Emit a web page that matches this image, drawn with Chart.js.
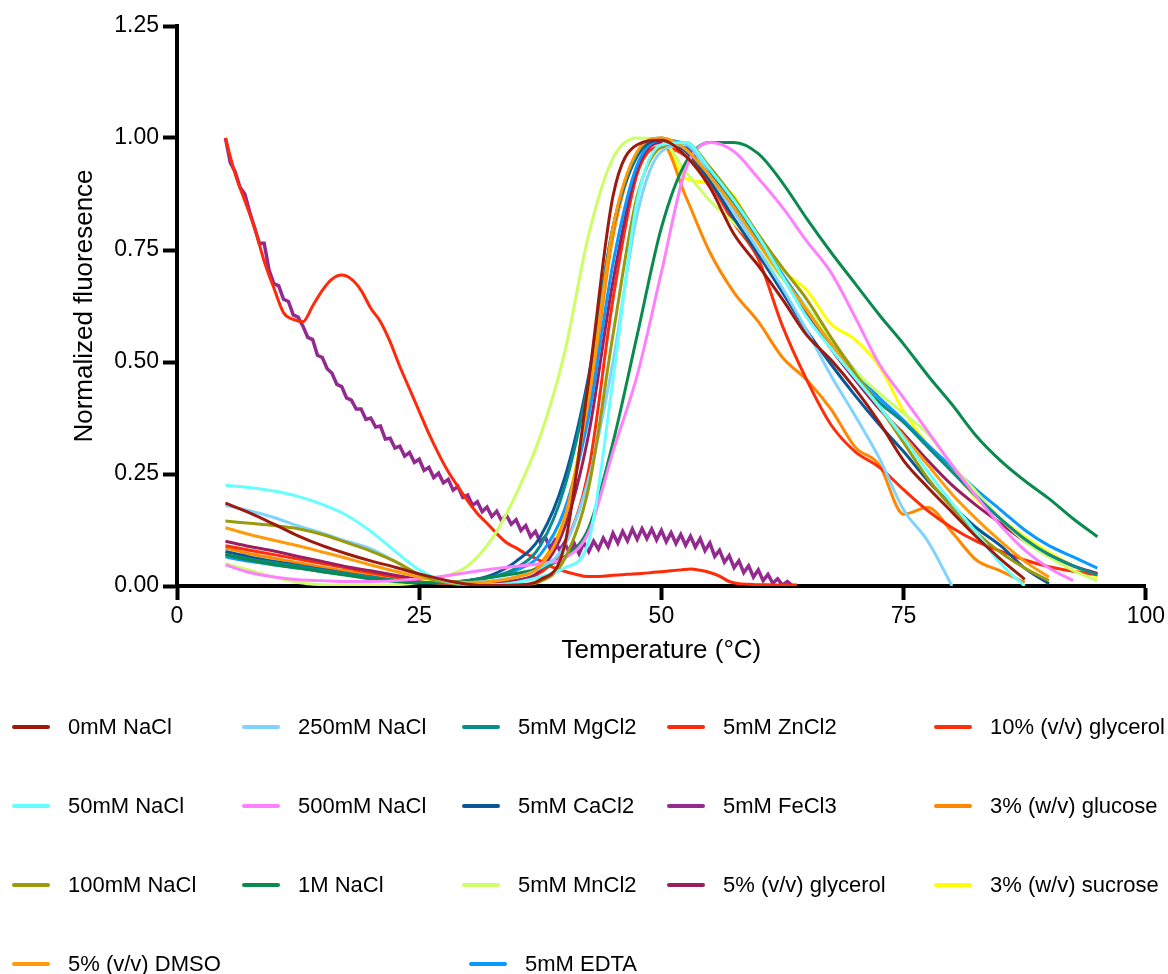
<!DOCTYPE html>
<html>
<head>
<meta charset="utf-8">
<script src="https://cdn.jsdelivr.net/npm/chart.js@4/dist/chart.umd.min.js"></script>
<style>
  body { margin: 0; background: #fff; }
  #wrap { position: relative; width: 1168px; height: 974px; }
  #legend { position: absolute; left: 0; top: 0; width: 1168px; height: 974px; pointer-events: none; }
  .item { position: absolute; height: 30px; font: 22px "Liberation Sans", Arial, sans-serif; color: #000; white-space: nowrap; }
  .item span.swatch { position: absolute; left: 0; top: 13px; width: 38px; height: 4px; border-radius: 2px; }
  .item span.txt { position: absolute; left: 56px; top: 2px; }
</style>
</head>
<body>
<div id="wrap">
  <canvas id="dsf_chart" width="1168" height="974"></canvas>
  <div id="legend"></div>
</div>
<script>
// temperature grid (°C) used by most series
const temps = [5, 7.5, 10, 12.5, 15, 17.5, 20, 22.5, 25, 27.5, 30, 32.5, 35, 37.5, 40, 42.5, 45, 47.5,
  50, 52.5, 55, 57.5, 60, 62.5, 65, 67.5, 70, 72.5, 75, 77.5, 80, 82.5, 85, 87.5, 90, 92.5, 95];

const nacl0 = [0.185, 0.163, 0.138, 0.112, 0.09, 0.072, 0.056, 0.042, 0.027, 0.014, 0.004, 0.001, 0.002, 0.014, 0.09, 0.46, 0.87, 0.985,
  0.995, 0.96, 0.89, 0.785, 0.715, 0.64, 0.56, 0.505, 0.44, 0.365, 0.28, 0.22, 0.165, 0.11, 0.06, 0.015, null, null, null];
const nacl50 = [0.225, 0.22, 0.212, 0.2, 0.182, 0.158, 0.122, 0.078, 0.036, 0.012, 0.004, 0.003, 0.008, 0.02, 0.04, 0.1, 0.46, 0.86,
  0.985, 0.99, 0.93, 0.86, 0.78, 0.69, 0.6, 0.53, 0.465, 0.4, 0.33, 0.255, 0.185, 0.12, 0.05, 0.0, null, null, null];
const nacl100 = [0.145, 0.14, 0.135, 0.128, 0.115, 0.097, 0.078, 0.055, 0.026, 0.009, 0.002, 0.001, 0.002, 0.01, 0.06, 0.22, 0.56, 0.87,
  0.98, 0.99, 0.935, 0.865, 0.785, 0.71, 0.64, 0.555, 0.475, 0.4, 0.32, 0.24, 0.175, 0.12, 0.075, 0.04, 0.012, null, null];
const dmso5 = [0.13, 0.115, 0.102, 0.09, 0.076, 0.062, 0.047, 0.033, 0.02, 0.011, 0.008, 0.01, 0.02, 0.045, 0.15, 0.42, 0.8, 0.97,
  1.0, 0.975, 0.915, 0.845, 0.765, 0.69, 0.615, 0.54, 0.47, 0.4, 0.335, 0.27, 0.205, 0.15, 0.1, 0.055, 0.02, null, null];
const nacl250 = [0.18, 0.168, 0.153, 0.134, 0.118, 0.1, 0.083, 0.055, 0.025, 0.01, 0.008, 0.012, 0.02, 0.04, 0.09, 0.24, 0.5, 0.83,
  0.97, 0.985, 0.915, 0.835, 0.75, 0.665, 0.57, 0.47, 0.38, 0.285, 0.17, 0.1, 0.0, null, null, null, null, null, null];
const nacl500 = [0.047, 0.03, 0.02, 0.014, 0.012, 0.01, 0.01, 0.012, 0.016, 0.022, 0.03, 0.038, 0.044, 0.05, 0.062, 0.12, 0.3, 0.47,
  0.7, 0.93, 0.99, 0.97, 0.91, 0.845, 0.77, 0.7, 0.6, 0.495, 0.42, 0.345, 0.27, 0.2, 0.135, 0.08, 0.04, 0.012, null];
const nacl1M = [0.07, 0.058, 0.048, 0.04, 0.032, 0.024, 0.016, 0.01, 0.007, 0.008, 0.012, 0.02, 0.028, 0.04, 0.065, 0.13, 0.32, 0.56,
  0.8, 0.945, 0.99, 0.99, 0.965, 0.9, 0.82, 0.745, 0.675, 0.605, 0.54, 0.47, 0.405, 0.335, 0.28, 0.235, 0.195, 0.15, 0.11];
const mgcl2 = [0.07, 0.06, 0.052, 0.044, 0.035, 0.027, 0.02, 0.013, 0.008, 0.008, 0.012, 0.02, 0.04, 0.09, 0.22, 0.46, 0.8, 0.965,
  1.0, 0.975, 0.92, 0.85, 0.77, 0.69, 0.615, 0.54, 0.47, 0.41, 0.365, 0.31, 0.255, 0.2, 0.15, 0.105, 0.07, 0.045, 0.025];
const cacl2 = [0.077, 0.065, 0.055, 0.046, 0.037, 0.028, 0.02, 0.012, 0.007, 0.007, 0.012, 0.025, 0.055, 0.11, 0.24, 0.47, 0.8, 0.96,
  0.995, 0.97, 0.905, 0.82, 0.74, 0.655, 0.57, 0.495, 0.425, 0.36, 0.3, 0.235, 0.18, 0.13, 0.09, 0.04, 0.005, null, null];
const mncl2 = [0.05, 0.035, 0.02, 0.008, 0.003, 0.002, 0.002, 0.003, 0.008, 0.02, 0.045, 0.105, 0.205, 0.335, 0.52, 0.785, 0.955, 1.0,
  0.995, 0.925, 0.86, 0.81, 0.75, 0.685, 0.62, 0.55, 0.48, 0.43, 0.385, 0.34, 0.27, 0.21, 0.15, 0.1, 0.065, 0.035, 0.012];
const edta = [0.065, 0.055, 0.047, 0.04, 0.032, 0.025, 0.018, 0.012, 0.008, 0.008, 0.012, 0.02, 0.035, 0.07, 0.17, 0.38, 0.72, 0.94,
  0.995, 0.985, 0.93, 0.86, 0.78, 0.695, 0.62, 0.55, 0.48, 0.42, 0.37, 0.315, 0.265, 0.215, 0.17, 0.125, 0.09, 0.065, 0.04];
const glycerol5 = [0.1, 0.088, 0.078, 0.066, 0.055, 0.043, 0.034, 0.024, 0.015, 0.008, 0.005, 0.006, 0.012, 0.035, 0.13, 0.34, 0.68, 0.93,
  0.99, 0.98, 0.92, 0.85, 0.77, 0.69, 0.61, 0.53, 0.46, 0.395, 0.34, 0.28, 0.225, 0.18, 0.14, 0.1, 0.07, 0.045, 0.028];
const glycerol10 = [0.09, 0.08, 0.07, 0.06, 0.05, 0.04, 0.03, 0.02, 0.012, 0.006, 0.005, 0.006, 0.012, 0.03, 0.09, 0.26, 0.64, 0.92,
  0.98, 0.96, 0.9, 0.81, 0.73, 0.58, 0.46, 0.36, 0.3, 0.265, 0.215, 0.168, 0.13, 0.1, 0.078, 0.058, 0.043, 0.033, 0.025];
const glucose3 = [0.085, 0.072, 0.062, 0.052, 0.042, 0.033, 0.025, 0.017, 0.01, 0.006, 0.006, 0.01, 0.02, 0.05, 0.15, 0.4, 0.78, 0.96,
  0.99, 0.87, 0.745, 0.655, 0.59, 0.51, 0.46, 0.395, 0.31, 0.27, 0.16, 0.175, 0.12, 0.058, 0.034, 0.008, null, null, null];
const sucrose3 = [0.075, 0.065, 0.055, 0.047, 0.038, 0.03, 0.022, 0.015, 0.01, 0.007, 0.007, 0.01, 0.02, 0.05, 0.16, 0.42, 0.79, 0.965,
  0.995, 0.91, 0.9, 0.87, 0.77, 0.705, 0.66, 0.585, 0.55, 0.49, 0.39, 0.315, 0.26, 0.195, 0.15, 0.11, 0.075, 0.045, 0.02];

// ZnCl2 is read on a 1 °C grid
const znTemps = [5, 6, 7, 8, 9, 10, 11, 12, 13, 14, 15, 16, 17, 18, 19, 20, 21, 22, 23, 24, 25, 26, 27, 28, 29, 30,
  31, 32, 33, 34, 35, 36, 37, 38, 39, 40, 41, 42, 43, 44, 45, 46, 47, 48, 49, 50, 51, 52, 53, 54, 55, 56, 57, 58, 59, 60, 61, 62, 63, 64];
const zncl2 = [1.0, 0.92, 0.86, 0.8, 0.725, 0.665, 0.61, 0.595, 0.59, 0.625, 0.66, 0.685, 0.694, 0.685, 0.66, 0.62, 0.59, 0.545, 0.49, 0.44,
  0.39, 0.34, 0.295, 0.255, 0.222, 0.19, 0.162, 0.14, 0.117, 0.097, 0.085, 0.072, 0.062, 0.05, 0.04, 0.033, 0.027, 0.022, 0.021, 0.022,
  0.024, 0.025, 0.027, 0.028, 0.03, 0.032, 0.034, 0.036, 0.038, 0.035, 0.03, 0.022, 0.01, 0.005, 0.004, 0.003, 0.003, 0.002, 0.002, 0.002];

// FeCl3 is noisy, read on a 0.5 °C grid
const feTemps = [5, 5.5, 6, 6.5, 7, 7.5, 8, 8.5, 9, 9.5, 10, 10.5, 11, 11.5, 12, 12.5, 13, 13.5, 14, 14.5,
  15, 15.5, 16, 16.5, 17, 17.5, 18, 18.5, 19, 19.5, 20, 20.5, 21, 21.5, 22, 22.5, 23, 23.5, 24, 24.5,
  25, 25.5, 26, 26.5, 27, 27.5, 28, 28.5, 29, 29.5, 30, 30.5, 31, 31.5, 32, 32.5, 33, 33.5, 34, 34.5,
  35, 35.5, 36, 36.5, 37, 37.5, 38, 38.5, 39, 39.5, 40, 40.5, 41, 41.5, 42, 42.5, 43, 43.5, 44, 44.5,
  45, 45.5, 46, 46.5, 47, 47.5, 48, 48.5, 49, 49.5, 50, 50.5, 51, 51.5, 52, 52.5, 53, 53.5, 54, 54.5,
  55, 55.5, 56, 56.5, 57, 57.5, 58, 58.5, 59, 59.5, 60, 60.5, 61, 61.5, 62, 62.5, 63, 63.5, 64];
const fecl3 = [1.0, 0.945, 0.925, 0.89, 0.875, 0.835, 0.8, 0.765, 0.765, 0.705, 0.675, 0.67, 0.64, 0.635, 0.605, 0.6, 0.58, 0.555, 0.55, 0.515,
  0.51, 0.485, 0.475, 0.45, 0.445, 0.42, 0.415, 0.395, 0.395, 0.372, 0.375, 0.355, 0.357, 0.328, 0.33, 0.308, 0.312, 0.29, 0.298, 0.276,
  0.283, 0.258, 0.265, 0.242, 0.252, 0.23, 0.238, 0.214, 0.222, 0.198, 0.203, 0.18, 0.188, 0.166, 0.176, 0.155, 0.167, 0.146, 0.158, 0.138,
  0.148, 0.124, 0.135, 0.11, 0.122, 0.098, 0.11, 0.085, 0.102, 0.08, 0.097, 0.074, 0.095, 0.072, 0.097, 0.077, 0.1, 0.082, 0.107, 0.088,
  0.118, 0.096, 0.122, 0.101, 0.127, 0.104, 0.128, 0.106, 0.127, 0.103, 0.124, 0.099, 0.119, 0.095, 0.115, 0.091, 0.111, 0.087, 0.106, 0.079,
  0.096, 0.066, 0.08, 0.053, 0.068, 0.041, 0.056, 0.03, 0.045, 0.02, 0.036, 0.012, 0.026, 0.006, 0.016, 0.002, 0.01, 0.001, 0.0];

const seriesLabels = ['0mM NaCl', '50mM NaCl', '100mM NaCl', '5% (v/v) DMSO', '250mM NaCl', '500mM NaCl', '1M NaCl',
  '5mM MgCl2', '5mM CaCl2', '5mM MnCl2', '5mM EDTA', '5mM ZnCl2', '5mM FeCl3', '5% (v/v) glycerol',
  '10% (v/v) glycerol', '3% (w/v) glucose', '3% (w/v) sucrose'];
const seriesValues = [nacl0, nacl50, nacl100, dmso5, nacl250, nacl500, nacl1M, mgcl2, cacl2, mncl2, edta, zncl2, fecl3,
  glycerol5, glycerol10, glucose3, sucrose3];
const seriesColors = ['#9c1a0e', '#66ffff', '#9a9a0a', '#ff9a0a', '#7fd3ff', '#ff80ff', '#0a8a4f', '#0a8c8c', '#0a5799',
  '#ccff66', '#0a99ff', '#ff2a0a', '#932a8f', '#9b1f5e', '#ff2e0a', '#ff8800', '#ffff00'];

// legend grid: column, row of each entry
const legendCols = [12, 242, 462, 667, 934];
const legendSlots = [[0, 0], [0, 1], [0, 2], [0, 3], [1, 0], [1, 1], [1, 2], [2, 0], [2, 1], [2, 2], [2, 3],
  [3, 0], [3, 1], [3, 2], [4, 0], [4, 1], [4, 2]];

const tickFont = { family: '"Liberation Sans", Arial, sans-serif', size: 23 };
const titleFont = { family: '"Liberation Sans", Arial, sans-serif', size: 26 };

const datasets = seriesValues.map((vals, i) => {
    let xs = temps;
    if (vals === zncl2) xs = znTemps;
    if (vals === fecl3) xs = feTemps;
    return {
        label: seriesLabels[i],
        data: xs.map((t, j) => ({ x: t, y: vals[j] })),
        borderColor: seriesColors[i],
        backgroundColor: seriesColors[i],
        borderWidth: vals === fecl3 ? 3.5 : 3,
        pointRadius: 0,
        fill: false,
        spanGaps: false,
        tension: 0,
        cubicInterpolationMode: vals === fecl3 ? 'default' : 'monotone'
    };
});

new Chart(document.getElementById('dsf_chart'), {
    type: 'line',
    data: { datasets: datasets },
    options: {
        responsive: false,
        animation: false,
        layout: { padding: { top: 26, right: 21, bottom: 288, left: 0 } },
        plugins: { legend: { display: false }, tooltip: { enabled: false } },
        scales: {
            x: {
                type: 'linear', min: 0, max: 100,
                ticks: { stepSize: 25, font: tickFont, color: '#000', padding: 3, maxRotation: 0 },
                grid: { drawOnChartArea: false, tickLength: 14, tickWidth: 4, tickColor: '#000' },
                border: { display: true, width: 4, color: '#000' },
                title: { display: true, text: 'Temperature (°C)', font: titleFont, color: '#000', padding: { top: 0, bottom: 20 } },
                afterFit: (scale) => { scale.height = 100; }
            },
            y: {
                min: 0, max: 1.25,
                ticks: { stepSize: 0.25, font: tickFont, color: '#000', padding: 4, callback: (v) => v.toFixed(2) },
                grid: { drawOnChartArea: false, tickLength: 14, tickWidth: 4, tickColor: '#000' },
                border: { display: true, width: 4, color: '#000' },
                title: { display: true, text: 'Normalized fluoresence', font: titleFont, color: '#000', padding: { top: 69, bottom: 0 } },
                afterFit: (scale) => { scale.width = 177; }
            }
        }
    }
});

// legend below the plot
const legend = document.getElementById('legend');
seriesLabels.forEach((label, i) => {
    const [c, r] = legendSlots[i];
    const item = document.createElement('div');
    item.className = 'item';
    item.style.left = (label === '5mM EDTA' ? 469 : legendCols[c]) + 'px';
    item.style.top = (712 + r * 79) + 'px';
    item.innerHTML = '<span class="swatch" style="background:' + seriesColors[i] + '"></span><span class="txt">' + label + '</span>';
    legend.appendChild(item);
});
</script>
</body>
</html>
